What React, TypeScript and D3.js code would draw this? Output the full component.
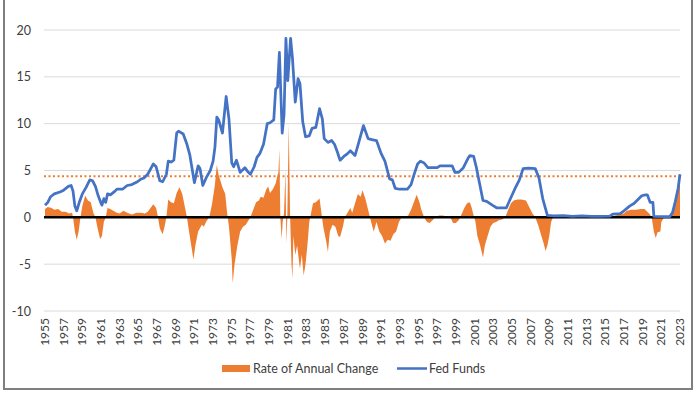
import * as d3 from 'd3';
import { useEffect, useRef } from 'react';

// Fed Funds rate (year, percent)
const ffYears = [
    1955.0, 1955.3, 1955.6, 1956.0, 1956.6, 1957.0, 1957.5, 1957.8, 1958.0, 1958.2, 1958.4, 1958.7, 1959.0, 1959.4,
    1959.8, 1960.1, 1960.4, 1960.7, 1961.0, 1961.1, 1961.3, 1961.5, 1961.7, 1962.0, 1962.5, 1962.7, 1963.3, 1963.8,
    1964.3, 1964.9, 1965.3, 1965.6, 1966.0, 1966.6, 1966.9, 1967.3, 1967.6, 1968.0, 1968.2, 1968.5, 1968.8, 1969.1,
    1969.3, 1969.8, 1970.2, 1970.5, 1971.0, 1971.4, 1971.6, 1971.9, 1972.3, 1972.7, 1973.0, 1973.2, 1973.4, 1973.6,
    1974.0, 1974.4, 1974.7, 1975.0, 1975.2, 1975.5, 1975.9, 1976.4, 1976.7, 1977.0, 1977.4, 1977.7, 1978.0, 1978.4,
    1978.8, 1979.1, 1979.5, 1979.7, 1979.9, 1980.1, 1980.4, 1980.6, 1980.8, 1981.0, 1981.3, 1981.5, 1981.8, 1982.1,
    1982.3, 1982.6, 1982.9, 1983.3, 1983.6, 1984.0, 1984.4, 1984.7, 1984.9, 1985.3, 1985.7, 1986.0, 1986.3, 1986.6,
    1987.0, 1987.4, 1987.7, 1988.2, 1988.6, 1989.1, 1989.6, 1990.0, 1990.5, 1991.0, 1991.4, 1991.9, 1992.2, 1992.5,
    1993.0, 1993.8, 1994.2, 1994.5, 1994.9, 1995.2, 1995.6, 1996.0, 1996.5, 1997.0, 1997.3, 1998.0, 1998.6, 1998.9,
    1999.3, 1999.8, 2000.3, 2000.5, 2000.9, 2001.2, 2001.5, 2001.9, 2002.3, 2002.9, 2003.4, 2004.4, 2004.8, 2005.3,
    2005.8, 2006.2, 2006.8, 2007.5, 2007.9, 2008.3, 2008.8, 2009.5, 2010.5, 2011.5, 2012.5, 2013.5, 2014.5, 2015.5,
    2015.8, 2016.6, 2017.0, 2017.6, 2018.1, 2018.5, 2018.9, 2019.3, 2019.5, 2019.8, 2020.1, 2020.2, 2021.0, 2021.9,
    2022.2, 2022.5, 2022.8, 2023.0,
];
const ffValues = [
    1.3, 1.6, 2.2, 2.5, 2.7, 2.9, 3.3, 3.4, 2.8, 1.2, 0.7, 1.7, 2.5, 3.2,
    4.0, 3.9, 3.3, 2.3, 1.5, 1.3, 2.0, 1.6, 2.5, 2.4, 2.8, 3.0, 3.0, 3.4,
    3.5, 3.8, 4.1, 4.2, 4.6, 5.7, 5.4, 3.9, 3.8, 4.6, 6.0, 5.9, 6.1, 9.0,
    9.2, 8.9, 7.8, 6.7, 3.7, 5.5, 5.2, 3.4, 4.3, 5.0, 6.0, 7.5, 10.7, 10.4,
    9.0, 12.9, 10.5, 5.8, 5.4, 6.1, 4.8, 5.3, 4.9, 4.6, 5.4, 6.4, 6.8, 7.8,
    10.0, 10.1, 10.4, 13.7, 13.9, 17.6, 9.0, 11.0, 19.1, 14.6, 19.1, 17.0, 12.3, 14.8,
    14.3, 10.2, 8.6, 8.7, 9.5, 9.6, 11.6, 10.5, 8.4, 8.0, 8.2, 7.8, 7.0, 6.1,
    6.5, 6.8, 7.1, 6.6, 8.0, 9.8, 8.4, 8.3, 8.2, 6.8, 6.0, 4.1, 4.0, 3.1,
    3.0, 3.0, 3.5, 4.5, 5.7, 6.0, 5.8, 5.3, 5.3, 5.3, 5.5, 5.5, 5.5, 4.8,
    4.8, 5.3, 6.3, 6.6, 6.5, 5.3, 3.8, 1.8, 1.7, 1.3, 1.0, 1.0, 1.9, 3.0,
    4.0, 5.2, 5.25, 5.2, 4.2, 2.0, 0.2, 0.15, 0.18, 0.1, 0.15, 0.1, 0.1, 0.13,
    0.35, 0.4, 0.7, 1.2, 1.5, 1.9, 2.3, 2.4, 2.4, 1.6, 1.6, 0.1, 0.08, 0.08,
    0.5, 1.7, 3.1, 4.6,
];

// Rate of annual change (year, percentage points)
const chgYears = [
    1955.0, 1955.3, 1955.7, 1956.0, 1956.4, 1956.8, 1957.2, 1957.6, 1957.9, 1958.0, 1958.2, 1958.4, 1958.6, 1958.8,
    1959.0, 1959.3, 1959.6, 1959.9, 1960.2, 1960.4, 1960.6, 1960.9, 1961.1, 1961.3, 1961.5, 1961.7, 1962.0, 1962.3,
    1962.7, 1963.0, 1963.4, 1963.8, 1964.3, 1964.8, 1965.3, 1965.7, 1966.0, 1966.3, 1966.6, 1966.9, 1967.1, 1967.3,
    1967.6, 1967.8, 1968.0, 1968.2, 1968.5, 1968.8, 1969.1, 1969.4, 1969.7, 1970.0, 1970.2, 1970.5, 1970.9, 1971.1,
    1971.4, 1971.8, 1972.0, 1972.3, 1972.6, 1972.9, 1973.2, 1973.4, 1973.6, 1974.0, 1974.3, 1974.5, 1974.7, 1975.0,
    1975.1, 1975.3, 1975.6, 1975.9, 1976.2, 1976.5, 1976.8, 1977.0, 1977.3, 1977.6, 1977.9, 1978.1, 1978.4, 1978.7,
    1978.9, 1979.1, 1979.4, 1979.7, 1979.9, 1980.0, 1980.1, 1980.2, 1980.35, 1980.45, 1980.6, 1980.75, 1980.85, 1980.95,
    1981.1, 1981.25, 1981.4, 1981.5, 1981.6, 1981.8, 1982.0, 1982.3, 1982.5, 1982.7, 1982.9, 1983.1, 1983.3, 1983.5,
    1983.7, 1984.0, 1984.4, 1984.6, 1984.8, 1985.1, 1985.3, 1985.5, 1985.8, 1986.1, 1986.4, 1986.6, 1986.9, 1987.1,
    1987.4, 1987.7, 1987.9, 1988.2, 1988.5, 1988.8, 1989.0, 1989.3, 1989.6, 1989.8, 1990.0, 1990.2, 1990.5, 1990.8,
    1991.1, 1991.4, 1991.7, 1992.0, 1992.3, 1992.6, 1992.9, 1993.2, 1993.5, 1993.9, 1994.2, 1994.5, 1994.8, 1995.1,
    1995.3, 1995.6, 1995.9, 1996.2, 1996.5, 1996.8, 1997.2, 1997.6, 1998.0, 1998.4, 1998.7, 1999.0, 1999.3, 1999.6,
    1999.9, 2000.2, 2000.5, 2000.7, 2000.9, 2001.1, 2001.3, 2001.6, 2001.9, 2002.1, 2002.4, 2002.7, 2003.0, 2003.3,
    2003.6, 2004.0, 2004.3, 2004.6, 2004.9, 2005.2, 2005.6, 2006.0, 2006.5, 2006.8, 2007.2, 2007.5, 2007.8, 2008.1,
    2008.4, 2008.6, 2008.8, 2009.0, 2009.2, 2009.4, 2010.0, 2011.0, 2012.0, 2013.0, 2014.0, 2015.0, 2015.8, 2016.1,
    2016.6, 2017.0, 2017.3, 2017.8, 2018.3, 2018.8, 2019.2, 2019.5, 2019.8, 2020.0, 2020.2, 2020.4, 2020.6, 2020.9,
    2021.0, 2021.3, 2021.9, 2022.2, 2022.5, 2022.8, 2023.0,
];
const chgValues = [
    0.9, 1.1, 1.0, 0.8, 0.9, 0.6, 0.6, 0.4, 0.5, 0.0, -1.5, -2.4, -1.5, 0.0,
    1.2, 2.3, 1.8, 1.6, 0.4, 0.0, -1.0, -2.3, -2.0, -0.5, 0.0, 1.0, 0.9, 0.7,
    0.5, 0.4, 0.7, 0.5, 0.3, 0.5, 0.5, 0.4, 0.6, 1.0, 1.4, 1.0, 0.0, -1.2,
    -1.8, -1.0, 0.0, 1.9, 1.6, 1.5, 2.6, 3.2, 2.5, 1.0, 0.0, -2.0, -4.5, -3.0,
    -1.5, -0.8, -1.0, -0.4, 0.0, 1.5, 3.5, 5.6, 4.5, 3.2, 2.5, 0.5, -1.0, -4.5,
    -7.0, -5.0, -3.0, -1.5, -1.0, -0.8, -0.3, 0.0, 0.8, 1.6, 1.8, 2.2, 2.1, 3.0,
    3.3, 2.6, 3.0, 3.6, 4.5, 4.8, 7.3, 0.0, -2.3, -0.5, 0.5, 5.0, -2.8, 0.0,
    10.0, 0.0, -5.0, -6.5, -2.0, -4.0, -3.0, -5.5, -4.0, -6.2, -5.0, -3.0, -0.5, 0.5,
    1.5, 1.6, 2.0, 0.5, -1.0, -2.5, -3.7, -1.5, -0.8, -1.0, -2.0, -2.1, -1.0, 0.0,
    0.5, 1.0, 0.5, 1.5, 2.5, 2.2, 2.9, 2.0, 0.8, 0.0, -0.8, -1.5, -0.5, -1.5,
    -2.0, -2.8, -2.4, -2.5, -1.8, -1.5, -0.5, 0.0, 0.0, 0.2, 0.8, 1.6, 2.4, 1.6,
    0.8, 0.0, -0.5, -0.6, -0.3, 0.0, 0.2, 0.2, 0.1, 0.0, -0.6, -0.6, -0.3, 0.3,
    1.0, 1.5, 1.6, 1.0, 0.2, -0.5, -2.0, -3.0, -4.3, -3.0, -2.0, -1.0, -0.6, -0.5,
    -0.3, -0.2, 0.0, 0.8, 1.5, 1.8, 1.9, 1.9, 1.8, 1.2, 0.4, 0.0, -0.8, -1.8,
    -2.8, -3.6, -3.0, -2.0, -0.5, 0.0, 0.05, -0.05, 0.0, 0.0, 0.0, 0.0, 0.0, 0.2,
    0.3, 0.4, 0.7, 0.8, 0.8, 0.9, 0.9, 0.6, 0.3, -0.2, -1.5, -2.2, -1.6, -1.5,
    -0.5, 0.0, 0.0, 0.3, 1.6, 3.0, 4.5,
];

const yTicks = [-10, -5, 0, 5, 10, 15, 20];
const yearLabels = d3.range(1955, 2024, 2);
const currentRate = 4.38;

export default function App() {
    const chartRef = useRef<SVGSVGElement | null>(null);

    useEffect(() => {
        if (!chartRef.current) return;
        const svg = d3.select(chartRef.current);
        svg.selectAll('*').remove();

        const width = 700;
        const height = 394;
        const plot = { left: 44, right: 680, top: 30, bottom: 311 };
        const font = 'Lato, "Open Sans", sans-serif';
        const textColor = '#404040';

        const x = d3.scaleLinear().domain([1955, 2023]).range([45, 680]);
        const y = d3.scaleLinear().domain([-10, 20]).range([plot.bottom, plot.top]);

        svg.attr('viewBox', `0 0 ${width} ${height}`);
        svg.append('rect').attr('width', width).attr('height', height).attr('fill', '#fff');

        // frame
        svg.append('path')
            .attr('d', `M4,0 V389 H692 V0`)
            .attr('fill', 'none')
            .attr('stroke', '#7f7f7f')
            .attr('stroke-width', 2);

        // gridlines
        svg.append('g')
            .selectAll('line')
            .data(yTicks.filter((t) => t !== 0))
            .join('line')
            .attr('x1', plot.left)
            .attr('x2', plot.right)
            .attr('y1', (d) => y(d))
            .attr('y2', (d) => y(d))
            .attr('stroke', '#d9d9d9')
            .attr('stroke-width', 1);

        // y labels
        svg.append('g')
            .selectAll('text')
            .data(yTicks)
            .join('text')
            .attr('x', 31)
            .attr('y', (d) => y(d) + 4.5)
            .attr('text-anchor', 'end')
            .style('font-family', font)
            .style('font-size', '12.5px')
            .attr('fill', textColor)
            .text((d) => d);

        // annual change area
        const chg = chgYears.map((t, i) => [t, chgValues[i]] as [number, number]);
        svg.append('path')
            .datum(chg)
            .attr(
                'd',
                d3
                    .area<[number, number]>()
                    .x((d) => x(d[0]))
                    .y0(y(0))
                    .y1((d) => y(d[1])),
            )
            .attr('fill', '#ed7d31');

        // zero line
        svg.append('line')
            .attr('x1', plot.left)
            .attr('x2', plot.right)
            .attr('y1', y(0))
            .attr('y2', y(0))
            .attr('stroke', '#000')
            .attr('stroke-width', 2.5);

        // current rate dotted line
        svg.append('line')
            .attr('x1', plot.left)
            .attr('x2', plot.right)
            .attr('y1', y(currentRate))
            .attr('y2', y(currentRate))
            .attr('stroke', '#ed7d31')
            .attr('stroke-width', 2)
            .attr('stroke-dasharray', '2,2.5');

        // fed funds line
        const ff = ffYears.map((t, i) => [t, ffValues[i]] as [number, number]);
        svg.append('path')
            .datum(ff)
            .attr(
                'd',
                d3
                    .line<[number, number]>()
                    .x((d) => x(d[0]))
                    .y((d) => y(d[1])),
            )
            .attr('fill', 'none')
            .attr('stroke', '#4472c4')
            .attr('stroke-width', 2.75)
            .attr('stroke-linejoin', 'round');

        // year labels, rotated
        svg.append('g')
            .selectAll('text')
            .data(yearLabels)
            .join('text')
            .attr('transform', (d) => `translate(${x(d) + 4},318) rotate(-90)`)
            .attr('text-anchor', 'end')
            .style('font-family', font)
            .style('font-size', '12px')
            .attr('fill', textColor)
            .text((d) => d);

        // legend
        const legend = svg.append('g').style('font-family', font).style('font-size', '12.5px');
        legend.append('rect').attr('x', 222).attr('y', 365).attr('width', 28).attr('height', 7).attr('fill', '#ed7d31');
        legend.append('text').attr('x', 253).attr('y', 373).attr('fill', textColor).text('Rate of Annual Change');
        legend.append('line')
            .attr('x1', 397)
            .attr('x2', 427)
            .attr('y1', 368.5)
            .attr('y2', 368.5)
            .attr('stroke', '#4472c4')
            .attr('stroke-width', 2.5);
        legend.append('text').attr('x', 429).attr('y', 373).attr('fill', textColor).text('Fed Funds');
    }, []);

    return (
        <svg
            ref={chartRef}
            width={700}
            height={394}
            style={{ position: 'absolute', left: 0, top: 0, display: 'block' }}
        />
    );
}
